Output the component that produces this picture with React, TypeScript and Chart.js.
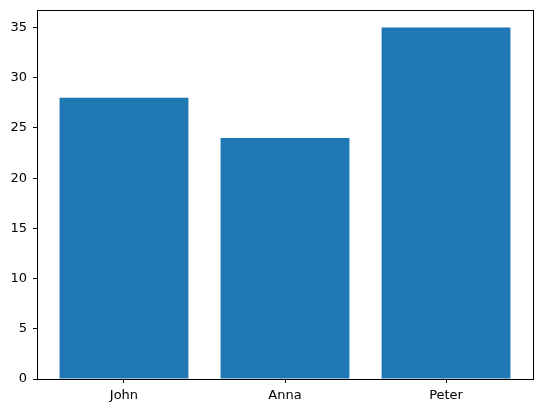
import { Chart, registerables } from "chart.js";
import { useRef, useEffect } from "react";

Chart.register(...registerables);

const names = ["John", "Anna", "Peter"];
const ages = [28, 24, 35];
const yTicks = [0, 5, 10, 15, 20, 25, 30, 35];

// draws the black box round the plot, like matplotlib spines
const framePlugin = {
  id: "frame",
  afterDraw(chart: any) {
    const { ctx, chartArea } = chart;
    ctx.save();
    ctx.strokeStyle = "#000";
    ctx.lineWidth = 1;
    ctx.strokeRect(
      Math.round(chartArea.left) + 0.5,
      Math.round(chartArea.top) + 0.5,
      Math.round(chartArea.right - chartArea.left),
      Math.round(chartArea.bottom - chartArea.top)
    );
    ctx.restore();
  },
};

export default function App() {
  const chartRef = useRef<HTMLCanvasElement | null>(null);

  useEffect(() => {
    if (!chartRef.current) return;
    const font = { family: "DejaVu Sans", size: 13 };
    const chart = new Chart(chartRef.current, {
      type: "bar",
      data: {
        datasets: [
          {
            data: names.map((_, i) => ({ x: i, y: ages[i] })),
            backgroundColor: "#1f77b4",
            borderWidth: 0,
            inflateAmount: 0,
            categoryPercentage: 1,
            barPercentage: 0.8,
          },
        ],
      },
      options: {
        responsive: false,
        animation: false,
        devicePixelRatio: 1,
        layout: { padding: { top: 10, right: 10, left: 0, bottom: 0 } },
        plugins: { legend: { display: false }, tooltip: { enabled: false } },
        scales: {
          x: {
            type: "linear",
            offset: false,
            min: -0.54,
            max: 2.54,
            afterBuildTicks: (scale: any) => {
              scale.ticks = names.map((_, i) => ({ value: i }));
            },
            afterFit: (scale: any) => {
              scale.height = 34;
              scale.paddingLeft = 0;
              scale.paddingRight = 0;
            },
            ticks: {
              color: "#000",
              font,
              padding: 5,
              maxRotation: 0,
              callback: (v: any) => names[v] ?? "",
            },
            grid: {
              offset: false,
              drawOnChartArea: false,
              drawTicks: true,
              tickLength: 4,
              color: "#000",
            },
            border: { display: false },
          },
          y: {
            min: 0,
            max: 36.75,
            afterBuildTicks: (scale: any) => {
              scale.ticks = yTicks.map((v) => ({ value: v }));
            },
            afterFit: (scale: any) => {
              scale.width = 37;
              scale.paddingTop = 0;
              scale.paddingBottom = 0;
            },
            ticks: { color: "#000", font, padding: 6 },
            grid: {
              drawOnChartArea: false,
              drawTicks: true,
              tickLength: 4,
              color: "#000",
            },
            border: { display: false },
          },
        },
      },
      plugins: [framePlugin],
    } as any);
    return () => chart.destroy();
  }, []);

  return (
    <div style={{ position: "absolute", left: 0, top: 0, background: "#fff" }}>
      <canvas ref={chartRef} width={543} height={413}></canvas>
    </div>
  );
}
